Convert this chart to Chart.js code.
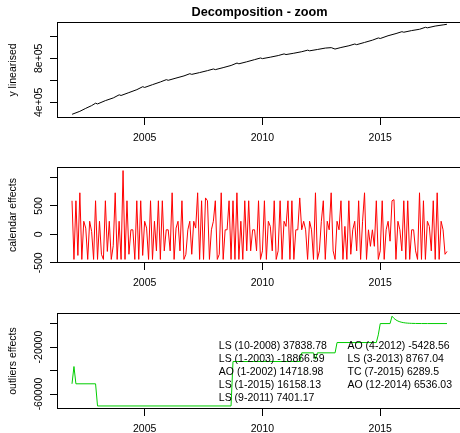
<!DOCTYPE html>
<html>
<head>
<meta charset="utf-8">
<script src="https://cdn.jsdelivr.net/npm/chart.js@4.4.0/dist/chart.umd.min.js"></script>
<style>
html, body { margin: 0; padding: 0; background: #fff; width: 460px; height: 433px; overflow: hidden; position: relative; }
canvas { position: absolute; left: 0; }
</style>
</head>
<body>
<canvas id="trend" width="480" height="144" style="top:0px"></canvas>
<canvas id="calendar" width="480" height="144" style="top:145px"></canvas>
<canvas id="outliers" width="480" height="144" style="top:291px"></canvas>
<script>
// series start: Dec 2001, monthly
const startYear = 2001 + 11 / 12;

const trendDates = [2001.92, 2002.25, 2002.5, 2002.75, 2002.92, 2003.0, 2003.33, 2003.67, 2003.92, 2004.0,
  2004.33, 2004.67, 2004.92, 2005.0, 2005.33, 2005.67, 2005.92, 2006.0, 2006.33, 2006.67,
  2006.92, 2007.0, 2007.33, 2007.67, 2007.92, 2008.0, 2008.33, 2008.67, 2008.92, 2009.0,
  2009.33, 2009.67, 2009.92, 2010.0, 2010.33, 2010.67, 2010.92, 2011.0, 2011.33, 2011.67,
  2011.92, 2012.0, 2012.33, 2012.67, 2012.92, 2013.08, 2013.33, 2013.67, 2013.92, 2014.0,
  2014.33, 2014.67, 2014.92, 2015.0, 2015.33, 2015.67, 2015.92, 2016.0, 2016.33, 2016.67,
  2016.92, 2017.0, 2017.33, 2017.67, 2017.83];
const trendValues = [291000, 318000, 345000, 370000, 392000, 385000, 415000, 440000, 468000, 462000,
  488000, 515000, 542000, 535000, 560000, 585000, 606000, 600000, 620000, 640000,
  660000, 654000, 670000, 688000, 703000, 697000, 715000, 735000, 757000, 750000,
  768000, 788000, 803000, 797000, 810000, 825000, 840000, 834000, 846000, 860000,
  874000, 868000, 880000, 893000, 897000, 884000, 898000, 914000, 930000, 924000,
  944000, 965000, 985000, 980000, 1005000, 1025000, 1042000, 1037000, 1052000, 1064000,
  1082000, 1077000, 1093000, 1104000, 1109000];

const calendarValues = [
  590, -440, 590, -370, 730, -440, 230, 110, -440, 230, 50, -440,
  590, -440, 230, -350, -440, 590, -300, 230, -440, -200, 730, -440,
  230, -440, 1120, -440, 590, -350, 80, 80, -440, 590, -440, 590,
  -370, 230, 110, -440, 590, -440, 230, -290, 590, -440, 590, -290,
  80, 80, -290, 730, -440, 110, 230, -290, 590, -440, -350, 80,
  230, -350, 230, 110, 730, -440, 590, -440, 640, 590, -440, 80,
  230, 590, -440, -350, 730, -440, 80, 80, 590, -440, 590, -440,
  730, -440, 230, -440, 590, -290, 590, -290, 80, 80, -290, 590,
  -440, -290, 590, -440, 230, 140, -290, 590, -440, -290, 590, -440,
  230, 140, 590, -440, 590, -440, 80, 80, 640, 80, 230, 80,
  -440, 230, 80, -440, 730, -440, -290, 230, 590, -440, 230, 80,
  730, -290, -440, 230, 80, 590, -440, 140, -440, 590, -350, 80,
  230, -290, 590, -440, 230, 730, -440, 80, -210, 80, -210, 590,
  -440, -290, 590, -440, 80, 230, -120, 590, 610, -440, 230, 80,
  -290, 590, -440, 590, -440, 80, 80, -290, -440, 730, -440, 590,
  -440, 230, 140, -290, 590, -440, 730, -440, 230, 80, -350, -300];

const outlierDates = [2001.917, 2002.0, 2002.083, 2002.917, 2003.0, 2008.667, 2008.75, 2011.583, 2011.667, 2012.167,
  2012.25, 2012.333, 2013.083, 2013.167, 2014.833, 2014.917, 2015.0, 2015.417, 2015.5, 2015.583,
  2015.667, 2015.75, 2015.833, 2015.917, 2016.0, 2016.083, 2016.167, 2016.25, 2016.333, 2016.5,
  2016.75, 2017.0, 2017.833];
const outlierValues = [-51298, -36580, -51298, -51298, -70165, -70165, -32326, -32326, -24925, -24925,
  -30354, -24925, -24925, -16158, -16158, -9622, 0, 0, 6290, 4403,
  3082, 2157, 1510, 1057, 740, 518, 363, 254, 178, 87,
  30, 10, 0];

const outlierLabels = [
  'LS (10-2008) 37838.78', 'LS (1-2003) -18866.59', 'AO (1-2002) 14718.98', 'LS (1-2015) 16158.13', 'LS (9-2011) 7401.17',
  'AO (4-2012) -5428.56', 'LS (3-2013) 8767.04', 'TC (7-2015) 6289.5', 'AO (12-2014) 6536.03'];

const xTicks = [2005, 2010, 2015];
const trendTicks = [400000, 600000, 800000, 1000000];
const trendTickLabels = ['4e+05', '', '8e+05', ''];
const calendarTicks = [-500, 0, 500, 1000];
const calendarTickLabels = ['-500', '0', '500', ''];
const outlierTicks = [-60000, -40000, -20000, 0];
const outlierTickLabels = ['-60000', '', '-20000', ''];

const FONT = '"Liberation Sans", Arial, Helvetica, sans-serif';
Chart.defaults.font.family = FONT;
Chart.defaults.font.size = 10.5;
Chart.defaults.color = '#000';

// box around the plot region, like R's box()
const frame = {
  id: 'frame',
  afterDraw(chart) {
    const { ctx, chartArea: a } = chart;
    ctx.save();
    ctx.strokeStyle = '#000';
    ctx.lineWidth = 1;
    ctx.strokeRect(Math.round(a.left) + 0.5, Math.round(a.top) + 0.5, Math.round(a.right - a.left), Math.round(a.bottom - a.top) - 1);
    ctx.restore();
  }
};

// outlier legend, placed in data coordinates
const outlierText = {
  id: 'outlierText',
  afterDatasetsDraw(chart) {
    if (chart.canvas.id !== 'outliers') return;
    const { ctx, scales: { x, y } } = chart;
    const colX = [2008.15, 2013.61];
    const y0 = y.getPixelForValue(-19270);
    ctx.save();
    ctx.font = '10.5px ' + FONT;
    ctx.fillStyle = '#000';
    ctx.textBaseline = 'middle';
    outlierLabels.forEach((t, i) => {
      const col = Math.floor(i / 5), row = i % 5;
      ctx.fillText(t, x.getPixelForValue(colX[col]), y0 + row * 12.9);
    });
    ctx.restore();
  }
};

function makePanel(id, points, color, yOpts, title) {
  // y tick labels turned 90 degrees, as R draws them
  const yLabels = {
    id: 'yLabels',
    afterDraw(chart) {
      const s = chart.scales.y, ctx = chart.ctx;
      ctx.save();
      ctx.font = '10.5px ' + FONT;
      ctx.fillStyle = '#000';
      ctx.textAlign = 'center';
      ctx.textBaseline = 'middle';
      yOpts.ticks.forEach((v, i) => {
        const txt = yOpts.labels[i];
        if (!txt) return;
        ctx.save();
        ctx.translate(s.right - 18, s.getPixelForValue(v));
        ctx.rotate(-Math.PI / 2);
        ctx.fillText(txt, 0, 0);
        ctx.restore();
      });
      ctx.restore();
    }
  };

  return new Chart(document.getElementById(id), {
    type: 'line',
    data: {
      datasets: [{
        data: points,
        borderColor: color,
        borderWidth: 1,
        pointRadius: 0,
        tension: 0,
        fill: false
      }]
    },
    options: {
      responsive: false,
      animation: false,
      events: [],
      layout: { padding: { left: 0, right: 18, top: title ? 0 : 22, bottom: 0 } },
      plugins: {
        legend: { display: false },
        tooltip: { enabled: false },
        title: title ? {
          display: true, text: title, fullSize: false,
          font: { size: 12.7, weight: 'bold' },
          padding: { top: 4.9, bottom: 1.86 }
        } : { display: false }
      },
      scales: {
        x: {
          type: 'linear',
          min: 2001.28, max: 2018.47,
          afterFit: s => { s.height = 26; },
          afterBuildTicks: s => { s.ticks = xTicks.map(v => ({ value: v })); },
          grid: { drawOnChartArea: false, drawTicks: true, tickLength: 7, color: '#000' },
          border: { display: false },
          ticks: {
            autoSkip: false, maxRotation: 0, padding: 7,
            callback: v => String(v)
          }
        },
        y: {
          type: 'linear',
          min: yOpts.min, max: yOpts.max,
          afterFit: s => { s.width = 57; },
          afterBuildTicks: s => { s.ticks = yOpts.ticks.map(v => ({ value: v })); },
          grid: { drawOnChartArea: false, drawTicks: true, tickLength: 7, color: '#000' },
          border: { display: false },
          ticks: { autoSkip: false, callback: () => '' },
          title: { display: true, text: yOpts.title, padding: { top: 6.7, bottom: 0 } }
        }
      }
    },
    plugins: [frame, yLabels, outlierText]
  });
}

makePanel('trend', trendDates.map((d, i) => ({ x: d, y: trendValues[i] })), '#000',
  { min: 257300, max: 1130000, ticks: trendTicks, labels: trendTickLabels, title: 'y linearised' },
  'Decomposition - zoom');

makePanel('calendar', calendarValues.map((v, i) => ({ x: startYear + i / 12, y: v })), '#ff0000',
  { min: -503, max: 1183, ticks: calendarTicks, labels: calendarTickLabels, title: 'calendar effects' });

makePanel('outliers', outlierDates.map((d, i) => ({ x: d, y: outlierValues[i] })), '#00cd00',
  { min: -72750, max: 9000, ticks: outlierTicks, labels: outlierTickLabels, title: 'outliers effects' });
</script>
</body>
</html>
